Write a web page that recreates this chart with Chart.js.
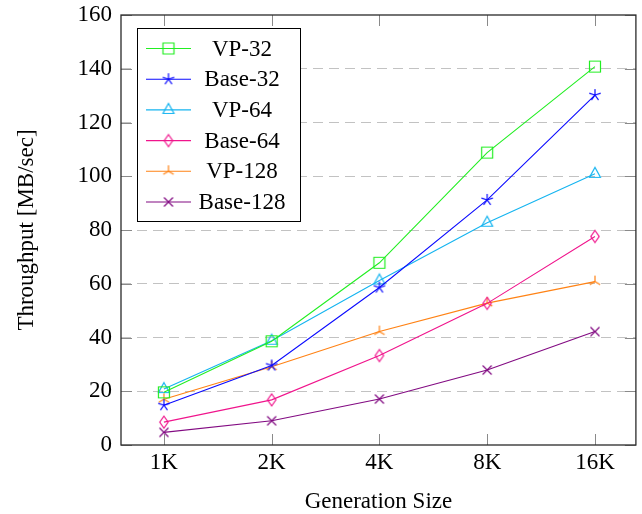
<!DOCTYPE html>
<html lang="en">
<head>
  <title>Throughput vs Generation Size</title>
  <meta charset="utf-8">
  <style>
    html, body { margin: 0; padding: 0; background: #fff; }
  </style>
</head>
<body>
  <canvas id="myChart" width="642" height="514"></canvas>
  <script src="https://cdn.jsdelivr.net/npm/chart.js@4.4.0/dist/chart.umd.min.js"></script>
  <script>
    // data
    const sizes = ['1K', '2K', '4K', '8K', '16K'];
    const vp32    = [19.6, 38.6, 67.8, 108.8, 140.8];
    const base32  = [14.8, 29.6, 58.6, 91.2, 130.2];
    const vp64    = [20.8, 38.8, 61.2, 82.7, 100.9];
    const base64  = [8.5, 16.8, 33.3, 52.7, 77.6];
    const vp128   = [17.0, 29.1, 42.2, 52.8, 60.8];
    const base128 = [4.7, 9.0, 17.1, 27.9, 42.2];
    const yTicks  = [0, 20, 40, 60, 80, 100, 120, 140, 160];

    const serif = "'Liberation Serif', 'DejaVu Serif', serif";

    // small canvases for the pgfplots-like marks
    function makeMark(kind, color) {
      const c = document.createElement('canvas');
      c.width = 18; c.height = 18;
      const g = c.getContext('2d');
      g.strokeStyle = color;
      g.lineWidth = 1.2;
      g.translate(9, 9);
      g.beginPath();
      if (kind === 'square') {
        g.rect(-5.5, -5.5, 11, 11);
      } else if (kind === 'star') {
        for (let k = 0; k < 5; k++) {
          const a = -Math.PI / 2 + k * 2 * Math.PI / 5;
          g.moveTo(0, 0);
          g.lineTo(6 * Math.cos(a), 6 * Math.sin(a));
        }
      } else if (kind === 'triangle') {
        g.moveTo(0, -6.5);
        g.lineTo(5.5, 3.5);
        g.lineTo(-5.5, 3.5);
        g.closePath();
      } else if (kind === 'diamond') {
        g.moveTo(0, -6);
        g.lineTo(4.2, 0);
        g.lineTo(0, 6);
        g.lineTo(-4.2, 0);
        g.closePath();
      } else if (kind === 'tri') {
        const angs = [-90, 30, 150];
        angs.forEach(d => {
          const a = d * Math.PI / 180;
          g.moveTo(0, 0);
          g.lineTo(6 * Math.cos(a), 6 * Math.sin(a));
        });
      } else if (kind === 'x') {
        g.moveTo(-4.5, -4.5); g.lineTo(4.5, 4.5);
        g.moveTo(-4.5, 4.5); g.lineTo(4.5, -4.5);
      }
      g.stroke();
      return c;
    }

    const series = [
      { label: 'VP-32',    data: vp32,    color: '#22ee22', mark: 'square' },
      { label: 'Base-32',  data: base32,  color: '#0a0aff', mark: 'star' },
      { label: 'VP-64',    data: vp64,    color: '#14b4f0', mark: 'triangle' },
      { label: 'Base-64',  data: base64,  color: '#f0148c', mark: 'diamond' },
      { label: 'VP-128',   data: vp128,   color: '#ff8214', mark: 'tri' },
      { label: 'Base-128', data: base128, color: '#820a82', mark: 'x' }
    ];

    const datasets = series.map(s => ({
      label: s.label,
      data: s.data.map((v, i) => ({ x: i, y: v })),
      borderColor: s.color,
      backgroundColor: 'transparent',
      borderWidth: 1.1,
      tension: 0,
      pointStyle: makeMark(s.mark, s.color),
      pointRadius: 5
    }));

    // frame, inward ticks and boxed legend like pgfplots
    const framePlugin = {
      id: 'frame',
      afterDatasetsDraw(chart) {
        const { ctx, chartArea: a, scales } = chart;
        ctx.save();
        ctx.strokeStyle = '#8a8a8a';
        ctx.lineWidth = 1;
        scales.x.ticks.forEach(t => {
          const x = Math.round(scales.x.getPixelForValue(t.value)) + 0.5;
          ctx.beginPath();
          ctx.moveTo(x, a.bottom); ctx.lineTo(x, a.bottom - 11);
          ctx.moveTo(x, a.top); ctx.lineTo(x, a.top + 11);
          ctx.stroke();
        });
        scales.y.ticks.forEach(t => {
          const y = Math.round(scales.y.getPixelForValue(t.value)) + 0.5;
          ctx.beginPath();
          ctx.moveTo(a.left, y); ctx.lineTo(a.left + 11, y);
          ctx.moveTo(a.right, y); ctx.lineTo(a.right - 11, y);
          ctx.stroke();
        });
        ctx.strokeStyle = '#2a2a2a';
        ctx.lineWidth = 1.3;
        ctx.strokeRect(a.left, a.top, a.right - a.left, a.bottom - a.top);

        // legend box
        const lx = a.left + 16.5, ly = a.top + 13.5, lw = 163, lh = 193;
        ctx.fillStyle = '#fff';
        ctx.fillRect(lx, ly, lw, lh);
        ctx.strokeStyle = '#000';
        ctx.lineWidth = 1;
        ctx.strokeRect(lx, ly, lw, lh);
        ctx.font = '23px ' + serif;
        ctx.textAlign = 'center';
        ctx.textBaseline = 'middle';
        chart.data.datasets.forEach((ds, i) => {
          const y = ly + 20 + i * 30.7;
          ctx.strokeStyle = ds.borderColor;
          ctx.lineWidth = 1.1;
          ctx.beginPath();
          ctx.moveTo(lx + 8.5, y); ctx.lineTo(lx + 53.5, y);
          ctx.stroke();
          const m = ds.pointStyle;
          ctx.drawImage(m, lx + 31 - m.width / 2, y - m.height / 2);
          ctx.fillStyle = '#000';
          ctx.fillText(ds.label, lx + 104.5, y + 1);
        });
        ctx.restore();
      }
    };

    const ctx = document.getElementById('myChart');
    const myChart = new Chart(ctx, {
      type: 'line',
      data: { datasets: datasets },
      options: {
        responsive: false,
        animation: false,
        devicePixelRatio: 1,
        layout: { padding: { top: 15, right: 0, left: 0, bottom: 0 } },
        plugins: {
          legend: { display: false },
          tooltip: { enabled: false }
        },
        scales: {
          x: {
            type: 'linear',
            min: -0.398,
            max: 4.38,
            afterBuildTicks: (scale) => {
              scale.ticks = sizes.map((s, i) => ({ value: i }));
            },
            afterFit: (scale) => {
              scale.height = 69;
              scale.paddingLeft = 0;
              scale.paddingRight = 0;
            },
            grid: { display: false, drawTicks: false },
            border: { display: false },
            ticks: {
              color: '#000',
              padding: 4,
              font: { family: serif, size: 23 },
              callback: (v) => sizes[v]
            },
            title: {
              display: true,
              text: 'Generation Size',
              color: '#000',
              font: { family: serif, size: 23 },
              padding: { top: 0, bottom: -2 }
            }
          },
          y: {
            min: 0,
            max: 160,
            afterBuildTicks: (scale) => {
              scale.ticks = yTicks.map(v => ({ value: v }));
            },
            afterFit: (scale) => {
              scale.width = 121;
              scale.paddingTop = 0;
              scale.paddingBottom = 0;
            },
            grid: {
              drawTicks: false,
              lineWidth: 1,
              color: (c) => (c.tick && (c.tick.value === 0 || c.tick.value === 160)) ? 'rgba(0,0,0,0)' : '#c2c2c2'
            },
            border: { display: false, dash: [10, 6] },
            ticks: {
              color: '#000',
              padding: 9,
              font: { family: serif, size: 23 }
            },
            title: {
              display: true,
              text: 'Throughput [MB/sec]',
              color: '#000',
              font: { family: serif, size: 23 },
              padding: { top: 13, bottom: 0 }
            }
          }
        }
      },
      plugins: [framePlugin]
    });
  </script>
</body>
</html>
